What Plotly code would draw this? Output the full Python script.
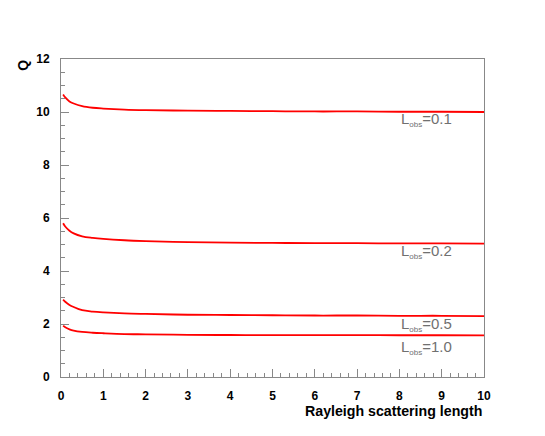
import plotly.graph_objects as go

# Rayleigh scattering length (x) and Q for each L_obs
x_len = [0.05, 0.1, 0.2, 0.3, 0.5, 0.75, 1.0, 1.5, 2.0, 3.0, 4.0, 5.0, 6.0, 7.0, 8.0, 9.0, 10.0]
q_01 = [10.66, 10.55, 10.40, 10.32, 10.22, 10.16, 10.13, 10.09, 10.07, 10.05, 10.04, 10.03, 10.02, 10.02, 10.01, 10.01, 10.0]
q_02 = [5.80, 5.68, 5.52, 5.42, 5.31, 5.25, 5.21, 5.16, 5.13, 5.09, 5.07, 5.06, 5.05, 5.05, 5.04, 5.04, 5.03]
q_05 = [2.92, 2.84, 2.72, 2.64, 2.52, 2.47, 2.44, 2.40, 2.38, 2.35, 2.34, 2.33, 2.32, 2.32, 2.31, 2.31, 2.30]
q_10 = [1.93, 1.88, 1.80, 1.75, 1.70, 1.67, 1.65, 1.62, 1.61, 1.59, 1.585, 1.58, 1.58, 1.58, 1.575, 1.575, 1.57]

curve_labels = ["0.1", "0.2", "0.5", "1.0"]
label_y = [9.72, 4.72, 1.98, 1.1]

fig = go.Figure()
for q in [q_01, q_02, q_05, q_10]:
    fig.add_trace(go.Scatter(x=x_len, y=q, mode="lines",
                             line=dict(color="#ff0000", width=1.8, shape="spline", smoothing=1),
                             showlegend=False, hoverinfo="skip"))

for lab, yy in zip(curve_labels, label_y):
    fig.add_annotation(x=8.0, y=yy, xanchor="left", yanchor="middle", showarrow=False,
                       text="L<sub><span style='font-size:8px'>obs</span></sub>=" + lab,
                       font=dict(family="Liberation Sans, Arial", size=15, color="#707070"))

axis_common = dict(showgrid=False, zeroline=False, showline=True, mirror=True,
                   linecolor="#888888", linewidth=1, ticks="inside", tickcolor="#888888",
                   ticklen=8, ticklabelstandoff=8,
                   tickfont=dict(family="Liberation Sans, Arial", size=12, color="black", weight="bold"))

fig.update_xaxes(range=[0, 10], dtick=1, tickformat="d",
                 minor=dict(dtick=0.2, ticks="inside", ticklen=4, tickcolor="#888888"),
                 **axis_common)
fig.update_yaxes(range=[0, 12], dtick=2,
                 minor=dict(dtick=0.5, ticks="inside", ticklen=4, tickcolor="#888888"),
                 **axis_common)

fig.add_annotation(xref="paper", yref="paper", x=1, y=-0.075, xanchor="right", yanchor="top",
                   showarrow=False, text="<b>Rayleigh scattering length</b>",
                   font=dict(family="Liberation Sans, Arial", size=14.2, color="black"))
fig.add_annotation(xref="paper", yref="paper", x=-0.09, y=1.005, xanchor="center", yanchor="top",
                   showarrow=False, text="<b>Q</b>", textangle=-90,
                   font=dict(family="Liberation Sans, Arial", size=14, color="black"))

# page body has an 8px margin, so shift the plot area back
fig.update_layout(width=545, height=436, plot_bgcolor="white", paper_bgcolor="white",
                  margin=dict(l=53, r=69, t=51, b=67, autoexpand=False))

fig.write_html("out.html")
